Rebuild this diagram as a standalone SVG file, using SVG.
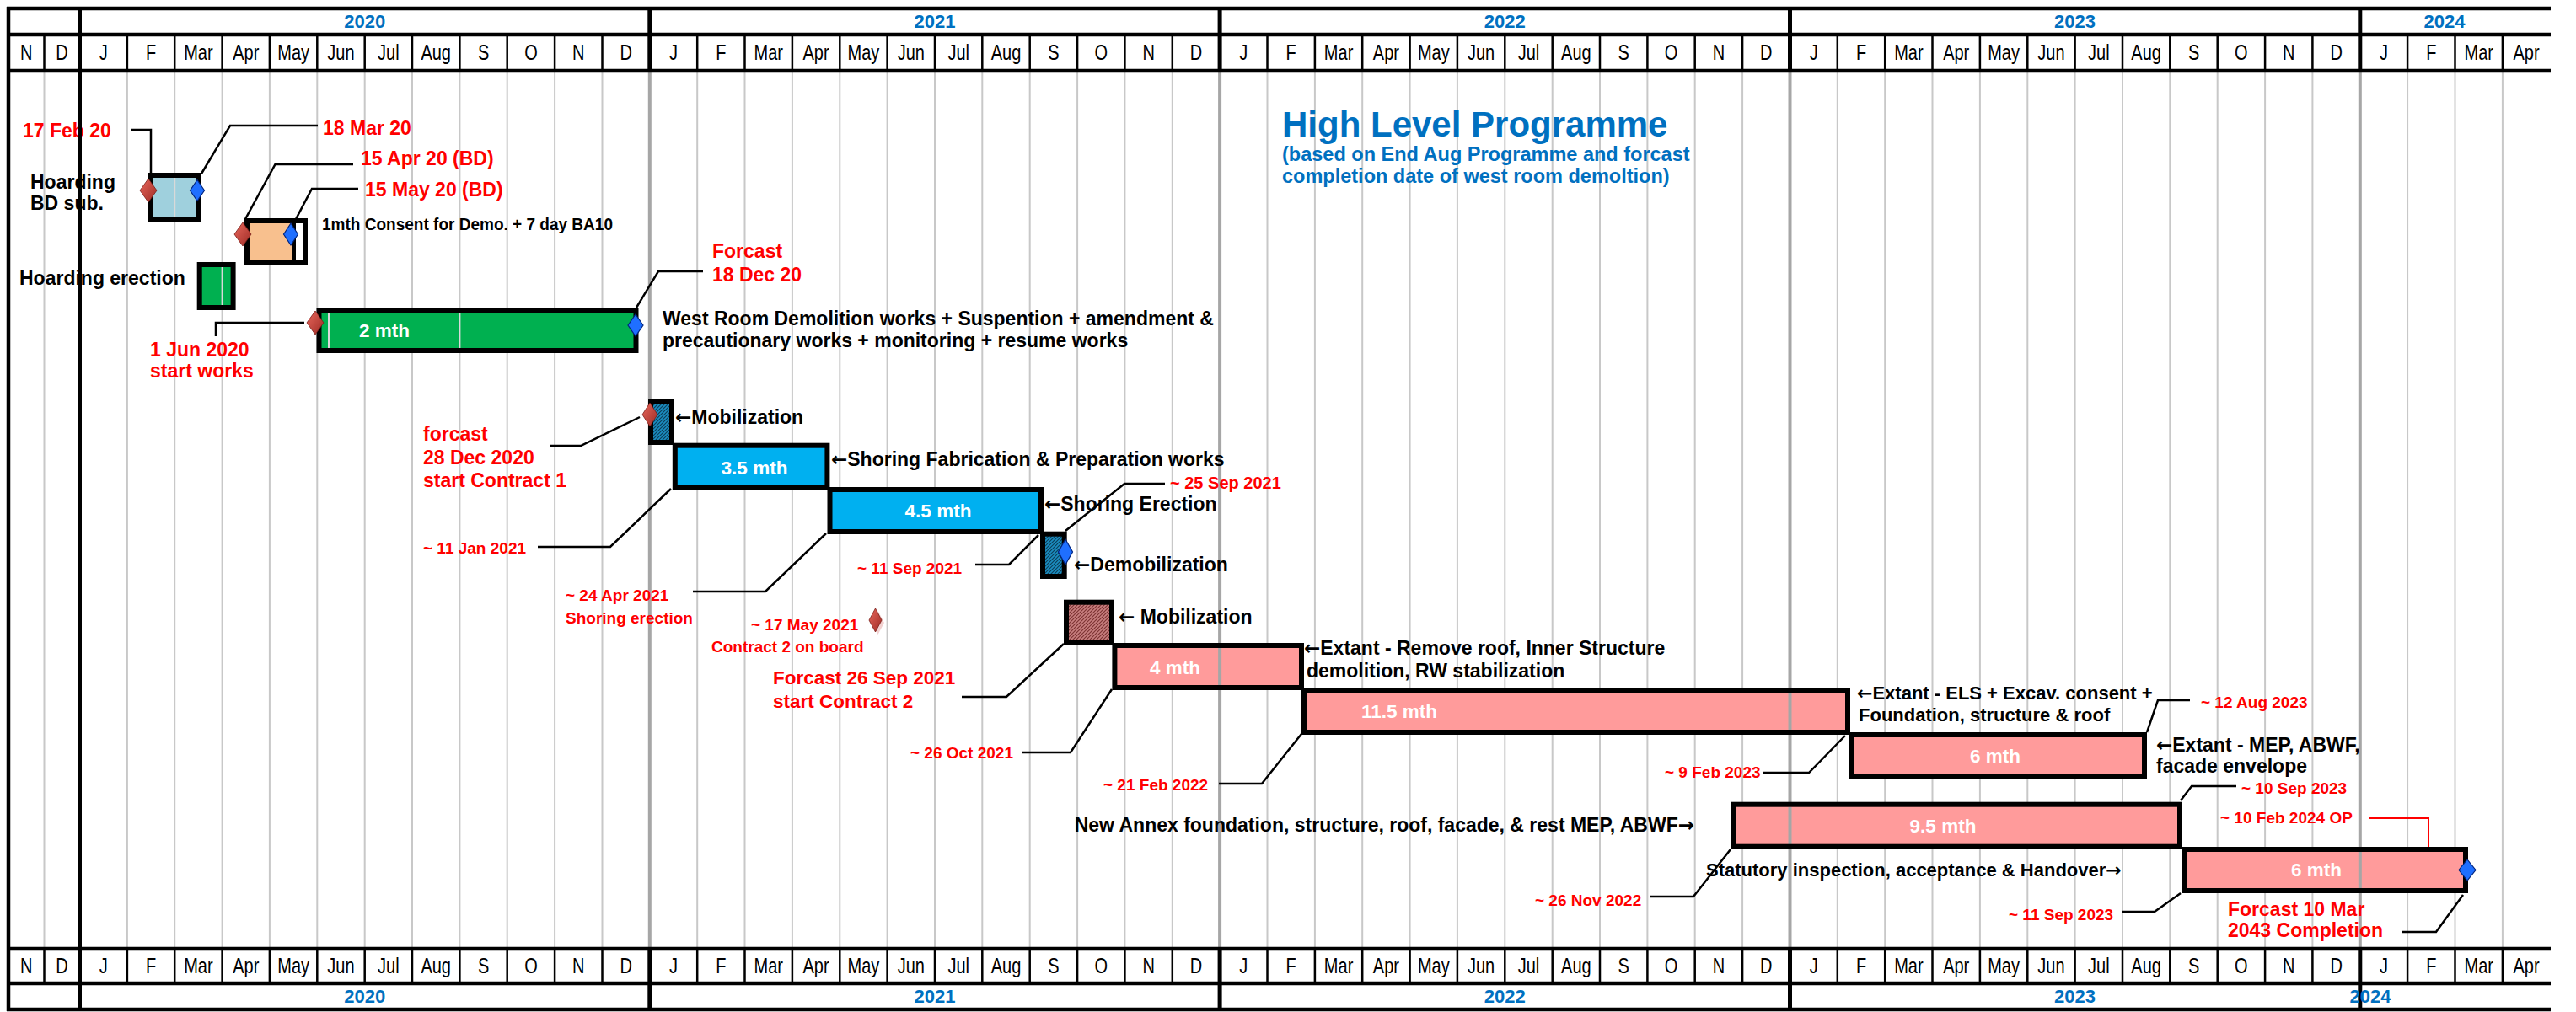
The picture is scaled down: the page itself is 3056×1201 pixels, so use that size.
<svg xmlns="http://www.w3.org/2000/svg" width="3056" height="1201" viewBox="0 0 3056 1201">
<style>
text{font-family:"Liberation Sans","DejaVu Sans",sans-serif}
.r{fill:#f00;font-weight:bold}
.k{fill:#000;font-weight:bold}
.w{fill:#fff;font-weight:bold;text-anchor:middle;font-size:22.5px}
.s23{font-size:23px}
.s22{font-size:22px}
.s19{font-size:19px}
.ar{font-family:"DejaVu Sans",sans-serif}
.mon{font-size:25px;text-anchor:middle;fill:#000}
.yr{font-size:22px;font-weight:bold;fill:#0070c0;text-anchor:middle}
.ttl{fill:#0070c0;font-weight:bold}
.grid{stroke:#c8c8c8;stroke-width:2;fill:none}
.yl{stroke:#a6a6a6;stroke-width:4;fill:none}
.hl{stroke:#000;stroke-width:4.5;fill:none}
.md{stroke:#000;stroke-width:2.5;fill:none}
.yv{stroke:#000;stroke-width:5;fill:none}
.ol{fill:none;stroke:#000;stroke-width:6}
.ld{fill:none;stroke:#000;stroke-width:2.5}
.rd{fill:url(#rg);stroke:#7a1d18;stroke-width:0.8}
.bd{fill:#1f6fff;stroke:#00247d;stroke-width:1.2}
.seam{stroke:#d9d9d9;stroke-width:2}
.yseam{stroke:#a6a6a6;stroke-width:4}
</style>
<defs>
<linearGradient id="rg" x1="0" y1="0" x2="1" y2="1">
<stop offset="0" stop-color="#e8675c"/>
<stop offset="1" stop-color="#9e2b25"/>
</linearGradient>
<pattern id="pT" width="4" height="4" patternUnits="userSpaceOnUse">
<rect width="4" height="4" fill="#1b8ec2"/>
<path d="M0,4 L4,0 M-1,1 L1,-1 M3,5 L5,3" stroke="#0b3f5a" stroke-width="1.2"/>
</pattern>
<pattern id="pB" width="4" height="4" patternUnits="userSpaceOnUse">
<rect width="4" height="4" fill="#c98080"/>
<path d="M0,4 L4,0 M-1,1 L1,-1 M3,5 L5,3" stroke="#7d3333" stroke-width="1.2"/>
</pattern>
</defs>
<rect width="3056" height="1201" fill="#fff"/>

<g id="grid">
<path class="grid" d="M52.5 86V1124 M150.9 86V1124 M207.2 86V1124 M263.6 86V1124 M319.9 86V1124 M376.3 86V1124 M432.7 86V1124 M489 86V1124 M545.4 86V1124 M601.7 86V1124 M658.1 86V1124 M714.5 86V1124 M827.2 86V1124 M883.5 86V1124 M939.9 86V1124 M996.3 86V1124 M1052.6 86V1124 M1109 86V1124 M1165.3 86V1124 M1221.7 86V1124 M1278.1 86V1124 M1334.4 86V1124 M1390.8 86V1124 M1503.5 86V1124 M1559.9 86V1124 M1616.2 86V1124 M1672.6 86V1124 M1728.9 86V1124 M1785.3 86V1124 M1841.7 86V1124 M1898 86V1124 M1954.4 86V1124 M2010.7 86V1124 M2067.1 86V1124 M2179.8 86V1124 M2236.2 86V1124 M2292.5 86V1124 M2348.9 86V1124 M2405.3 86V1124 M2461.6 86V1124 M2518 86V1124 M2574.3 86V1124 M2630.7 86V1124 M2687.1 86V1124 M2743.4 86V1124 M2856.1 86V1124 M2912.5 86V1124 M2968.9 86V1124"/>
<path class="yl" d="M770.8 86V1124 M1447.1 86V1124 M2123.5 86V1124 M2799.8 86V1124"/>
</g>

<g id="title">
<text class="ttl" x="1521" y="162" font-size="42">High Level Programme</text>
<text class="ttl" x="1521" y="191" font-size="23.5">(based on End Aug Programme and forcast</text>
<text class="ttl" x="1521" y="217" font-size="23.5">completion date of west room demoltion)</text>
</g>

<g id="node-hoarding-bd">
<rect x="179" y="208" width="57" height="53" fill="#9fd0dd"/>
<line class="seam" x1="207.2" y1="211" x2="207.2" y2="258"/>
<rect class="ol" x="179" y="208" width="57" height="53"/>
<polygon class="rd" points="176,212 186,226 176,240 166,226"/>
<polygon class="bd" points="234,213.5 242.5,226 234,238.5 225.5,226"/>
<text class="k s23" x="36" y="224">Hoarding</text>
<text class="k s23" x="36" y="249">BD sub.</text>
<text class="r s23" x="27" y="163">17 Feb 20</text>
<text class="r s23" x="383" y="160">18 Mar 20</text>
</g>

<g id="node-consent">
<rect x="293" y="262" width="56" height="50" fill="#f8c08e"/>
<rect x="349" y="262" width="13" height="50" fill="#fff"/>
<line x1="349" y1="262" x2="349" y2="312" stroke="#000" stroke-width="4"/>
<rect class="ol" x="293" y="262" width="69" height="50"/>
<polygon class="rd" points="288,264 298,278 288,292 278,278"/>
<polygon class="bd" points="345,265 353.5,278 345,291 336.5,278"/>
<text class="r s23" x="428" y="196">15 Apr 20 (BD)</text>
<text class="r s23" x="433" y="233">15 May 20 (BD)</text>
<text class="k" x="382" y="273" font-size="20" textLength="345" lengthAdjust="spacingAndGlyphs">1mth Consent for Demo. + 7 day BA10</text>
</g>

<g id="node-hoarding-erection">
<rect x="236.7" y="314" width="39.9" height="51" fill="#00b050"/>
<line class="seam" x1="263.6" y1="317" x2="263.6" y2="362"/>
<rect class="ol" x="236.7" y="314" width="39.9" height="51"/>
<text class="k s23" x="23" y="338">Hoarding erection</text>
</g>

<g id="node-west-room">
<rect x="378.5" y="368" width="376" height="48" fill="#00b050"/>
<line class="seam" x1="390" y1="371" x2="390" y2="413"/>
<line class="seam" x1="545.4" y1="371" x2="545.4" y2="413"/>
<rect class="ol" x="378.5" y="368" width="376" height="48"/>
<polygon class="rd" points="374,369 384,383 374,397 364,383"/>
<polygon class="bd" points="754,373 763,386 754,399 745,386"/>
<text class="w" x="456" y="400">2 mth</text>
<text class="r s23" x="178" y="423">1 Jun 2020</text>
<text class="r s23" x="178" y="448">start works</text>
<text class="r s23" x="845" y="306">Forcast</text>
<text class="r s23" x="845" y="334">18 Dec 20</text>
<text class="k s23" x="786" y="386">West Room Demolition works + Suspention + amendment &amp;</text>
<text class="k s23" x="786" y="412">precautionary works + monitoring + resume works</text>
</g>

<g id="node-mobilization-1">
<rect x="772" y="476" width="25" height="49" fill="url(#pT)"/>
<rect class="ol" x="772" y="476" width="25" height="49"/>
<polygon class="rd" points="771,478 780,492 771,506 762,492"/>
<text class="k s23" x="801" y="503"><tspan class="ar">←</tspan>Mobilization</text>
<text class="r s23" x="502" y="523">forcast</text>
<text class="r s23" x="502" y="551">28 Dec 2020</text>
<text class="r s23" x="502" y="578">start Contract 1</text>
</g>

<g id="node-shoring-fabrication">
<rect x="800.8" y="528.7" width="180.6" height="50" fill="#00b0f0"/>
<rect class="ol" x="800.8" y="528.7" width="180.6" height="50"/>
<text class="w" x="895" y="563">3.5 mth</text>
<text class="k s23" x="986" y="553"><tspan class="ar">←</tspan>Shoring Fabrication &amp; Preparation works</text>
<text class="r s19" x="502" y="657">~ 11 Jan 2021</text>
</g>

<g id="node-shoring-erection">
<rect x="984.5" y="581" width="250.5" height="50" fill="#00b0f0"/>
<rect class="ol" x="984.5" y="581" width="250.5" height="50"/>
<text class="w" x="1113" y="614">4.5 mth</text>
<text class="k s23" x="1239" y="606"><tspan class="ar">←</tspan>Shoring Erection</text>
<text class="r s19" x="671" y="713">~ 24 Apr 2021</text>
<text class="r s19" x="671" y="740">Shoring erection</text>
</g>

<g id="node-contract2-onboard">
<polygon points="1041.5,725 1049,739 1041.5,753 1034,739" fill="#e9b3b0" opacity="0.6"/>
<polygon class="rd" points="1038.5,722 1046,736 1038.5,750 1031,736"/>
<text class="r s19" x="891" y="748">~ 17 May 2021</text>
<text class="r s19" x="844" y="774">Contract 2 on board</text>
</g>

<g id="node-demobilization">
<rect x="1237" y="633.7" width="25.7" height="50.3" fill="url(#pT)"/>
<rect class="ol" x="1237" y="633.7" width="25.7" height="50.3"/>
<polygon class="bd" points="1264,640 1272.5,655 1264,670 1255.5,655"/>
<text class="k s23" x="1274" y="678"><tspan class="ar">←</tspan>Demobilization</text>
<text class="r s19" x="1017" y="681">~ 11 Sep 2021</text>
<text class="r" x="1388" y="580" font-size="20">~ 25 Sep 2021</text>
</g>

<g id="node-mobilization-2">
<rect x="1265" y="714.7" width="54" height="48.3" fill="url(#pB)"/>
<rect class="ol" x="1265" y="714.7" width="54" height="48.3"/>
<text class="k s23" x="1327" y="740"><tspan class="ar">←</tspan> Mobilization</text>
<text class="r" x="917" y="812" font-size="22.5">Forcast 26 Sep 2021</text>
<text class="r" x="917" y="840" font-size="22.5">start Contract 2</text>
</g>

<g id="node-extant-remove-roof">
<rect x="1322.4" y="766" width="221.6" height="50" fill="#ff9b9b"/>
<line class="yseam" x1="1447.1" y1="769" x2="1447.1" y2="813"/>
<rect class="ol" x="1322.4" y="766" width="221.6" height="50"/>
<text class="w" x="1394" y="800">4 mth</text>
<text class="k s23" x="1547" y="777"><tspan class="ar">←</tspan>Extant - Remove roof, Inner Structure</text>
<text class="k s23" x="1550" y="804">demolition, RW stabilization</text>
<text class="r s19" x="1202" y="900" text-anchor="end">~ 26 Oct 2021</text>
</g>

<g id="node-extant-els">
<rect x="1547" y="820" width="645" height="49" fill="#ff9b9b"/>
<line class="yseam" x1="2123.5" y1="823" x2="2123.5" y2="866"/>
<rect class="ol" x="1547" y="820" width="645" height="49"/>
<text class="w" x="1660" y="852">11.5 mth</text>
<text class="k s22" x="2203" y="830"><tspan class="ar">←</tspan>Extant - ELS + Excav. consent +</text>
<text class="k s22" x="2205" y="856">Foundation, structure &amp; roof</text>
<text class="r s19" x="1309" y="938">~ 21 Feb 2022</text>
</g>

<g id="node-extant-mep">
<rect x="2196" y="872" width="348" height="50" fill="#ff9b9b"/>
<rect class="ol" x="2196" y="872" width="348" height="50"/>
<text class="w" x="2367" y="905">6 mth</text>
<text class="k s23" x="2558" y="892"><tspan class="ar">←</tspan>Extant - MEP, ABWF,</text>
<text class="k s23" x="2558" y="917">facade envelope</text>
<text class="r s19" x="1975" y="923">~ 9 Feb 2023</text>
<text class="r s19" x="2611" y="840">~ 12 Aug 2023</text>
</g>

<g id="node-new-annex">
<rect x="2056" y="954.7" width="530" height="50" fill="#ff9b9b"/>
<line class="yseam" x1="2123.5" y1="958" x2="2123.5" y2="1002"/>
<rect class="ol" x="2056" y="954.7" width="530" height="50"/>
<text class="w" x="2305" y="988">9.5 mth</text>
<text class="k s23" x="2010" y="987" text-anchor="end">New Annex foundation, structure, roof, facade, &amp; rest MEP, ABWF<tspan class="ar">→</tspan></text>
<text class="r s19" x="1821" y="1075">~ 26 Nov 2022</text>
<text class="r s19" x="2659" y="942">~ 10 Sep 2023</text>
</g>

<g id="node-handover">
<rect x="2592" y="1008" width="333" height="49" fill="#ff9b9b"/>
<line class="yseam" x1="2799.8" y1="1011" x2="2799.8" y2="1054"/>
<rect class="ol" x="2592" y="1008" width="333" height="49"/>
<polygon class="bd" points="2927,1020 2937,1032.5 2927,1045 2917,1032.5"/>
<text class="w" x="2748" y="1040">6 mth</text>
<text class="k s22" x="2024" y="1040">Statutory inspection, acceptance &amp; Handover<tspan class="ar">→</tspan></text>
<text class="r s19" x="2383" y="1092">~ 11 Sep 2023</text>
<text class="r s19" x="2634" y="977">~ 10 Feb 2024 OP</text>
<text class="r s23" x="2643" y="1087">Forcast 10 Mar</text>
<text class="r s23" x="2643" y="1112">2043 Completion</text>
</g>

<g id="connectors">
<polyline class="ld" points="156,154 179,154 179,206"/>
<polyline class="ld" points="377,149 273,149 239,206"/>
<polyline class="ld" points="419,195 326.5,195 291,260"/>
<polyline class="ld" points="425,224 370,224 351,260"/>
<polyline class="ld" points="361,383 256,383 256,399"/>
<polyline class="ld" points="834,322 781,322 755,365"/>
<polyline class="ld" points="653,529 689,529 759,495"/>
<polyline class="ld" points="638,649 724,649 796,580"/>
<polyline class="ld" points="822,702 908,702 980,633"/>
<polyline class="ld" points="1157,670 1197,670 1232,635"/>
<polyline class="ld" points="1382,574 1334,574 1264,630"/>
<polyline class="ld" points="1141,827 1194,827 1262,764"/>
<polyline class="ld" points="1213,893 1270,893 1319,818"/>
<polyline class="ld" points="1446,930 1497,930 1544,871"/>
<polyline class="ld" points="2091,917 2146,917 2189,873"/>
<polyline class="ld" points="2598,831 2560,831 2547,869"/>
<polyline class="ld" points="2653,933 2600,933 2587,950"/>
<polyline fill="none" stroke="#f00" stroke-width="2" points="2810,971 2881,971 2881,1005"/>
<polyline class="ld" points="1958,1064 2009,1064 2053,1008"/>
<polyline class="ld" points="2517,1082 2556,1082 2587,1060"/>
<polyline class="ld" points="2849,1106 2890,1106 2922,1062"/>
</g>

<g id="header">
<path class="hl" d="M8 10H3026 M8 41H3026 M8 84H3026 M8 1126H3026 M8 1167H3026 M8 1198H3026"/>
<path class="hl" d="M10 8V1200"/>
<path class="yv" d="M94.5 8V1200 M770.8 10V84 M1447.1 10V84 M2123.5 10V84 M2799.8 10V84 M770.8 1126V1198 M1447.1 1126V1198 M2123.5 1126V1198 M2799.8 1126V1198"/>
<path class="md" d="M52.5 41V84 M150.9 41V84 M207.2 41V84 M263.6 41V84 M319.9 41V84 M376.3 41V84 M432.7 41V84 M489 41V84 M545.4 41V84 M601.7 41V84 M658.1 41V84 M714.5 41V84 M827.2 41V84 M883.5 41V84 M939.9 41V84 M996.3 41V84 M1052.6 41V84 M1109 41V84 M1165.3 41V84 M1221.7 41V84 M1278.1 41V84 M1334.4 41V84 M1390.8 41V84 M1503.5 41V84 M1559.9 41V84 M1616.2 41V84 M1672.6 41V84 M1728.9 41V84 M1785.3 41V84 M1841.7 41V84 M1898 41V84 M1954.4 41V84 M2010.7 41V84 M2067.1 41V84 M2179.8 41V84 M2236.2 41V84 M2292.5 41V84 M2348.9 41V84 M2405.3 41V84 M2461.6 41V84 M2518 41V84 M2574.3 41V84 M2630.7 41V84 M2687.1 41V84 M2743.4 41V84 M2856.1 41V84 M2912.5 41V84 M2968.9 41V84"/>
<path class="md" d="M52.5 1126V1167 M150.9 1126V1167 M207.2 1126V1167 M263.6 1126V1167 M319.9 1126V1167 M376.3 1126V1167 M432.7 1126V1167 M489 1126V1167 M545.4 1126V1167 M601.7 1126V1167 M658.1 1126V1167 M714.5 1126V1167 M827.2 1126V1167 M883.5 1126V1167 M939.9 1126V1167 M996.3 1126V1167 M1052.6 1126V1167 M1109 1126V1167 M1165.3 1126V1167 M1221.7 1126V1167 M1278.1 1126V1167 M1334.4 1126V1167 M1390.8 1126V1167 M1503.5 1126V1167 M1559.9 1126V1167 M1616.2 1126V1167 M1672.6 1126V1167 M1728.9 1126V1167 M1785.3 1126V1167 M1841.7 1126V1167 M1898 1126V1167 M1954.4 1126V1167 M2010.7 1126V1167 M2067.1 1126V1167 M2179.8 1126V1167 M2236.2 1126V1167 M2292.5 1126V1167 M2348.9 1126V1167 M2405.3 1126V1167 M2461.6 1126V1167 M2518 1126V1167 M2574.3 1126V1167 M2630.7 1126V1167 M2687.1 1126V1167 M2743.4 1126V1167 M2856.1 1126V1167 M2912.5 1126V1167 M2968.9 1126V1167"/>
<text class="yr" x="432.7" y="33">2020</text>
<text class="yr" x="1109" y="33">2021</text>
<text class="yr" x="1785.3" y="33">2022</text>
<text class="yr" x="2461.6" y="33">2023</text>
<text class="yr" x="2900" y="33">2024</text>
<text class="yr" x="432.7" y="1190">2020</text>
<text class="yr" x="1109" y="1190">2021</text>
<text class="yr" x="1785.3" y="1190">2022</text>
<text class="yr" x="2461.6" y="1190">2023</text>
<text class="yr" x="2812" y="1190" text-anchor="start">2024</text>
<g class="mon" transform="scale(0.8 1)">
<text x="39.1" y="71.5">N</text><text x="91.9" y="71.5">D</text>
<text x="153.4" y="71.5">J</text><text x="223.8" y="71.5">F</text><text x="294.3" y="71.5">Mar</text><text x="364.7" y="71.5">Apr</text><text x="435.2" y="71.5">May</text><text x="505.6" y="71.5">Jun</text><text x="576.1" y="71.5">Jul</text><text x="646.5" y="71.5">Aug</text><text x="717" y="71.5">S</text><text x="787.4" y="71.5">O</text><text x="857.9" y="71.5">N</text><text x="928.3" y="71.5">D</text>
<text x="998.8" y="71.5">J</text><text x="1069.2" y="71.5">F</text><text x="1139.7" y="71.5">Mar</text><text x="1210.1" y="71.5">Apr</text><text x="1280.6" y="71.5">May</text><text x="1351" y="71.5">Jun</text><text x="1421.5" y="71.5">Jul</text><text x="1491.9" y="71.5">Aug</text><text x="1562.4" y="71.5">S</text><text x="1632.8" y="71.5">O</text><text x="1703.3" y="71.5">N</text><text x="1773.7" y="71.5">D</text>
<text x="1844.2" y="71.5">J</text><text x="1914.6" y="71.5">F</text><text x="1985.1" y="71.5">Mar</text><text x="2055.5" y="71.5">Apr</text><text x="2126" y="71.5">May</text><text x="2196.4" y="71.5">Jun</text><text x="2266.9" y="71.5">Jul</text><text x="2337.3" y="71.5">Aug</text><text x="2407.8" y="71.5">S</text><text x="2478.2" y="71.5">O</text><text x="2548.7" y="71.5">N</text><text x="2619.1" y="71.5">D</text>
<text x="2689.6" y="71.5">J</text><text x="2760" y="71.5">F</text><text x="2830.5" y="71.5">Mar</text><text x="2900.9" y="71.5">Apr</text><text x="2971.4" y="71.5">May</text><text x="3041.8" y="71.5">Jun</text><text x="3112.3" y="71.5">Jul</text><text x="3182.7" y="71.5">Aug</text><text x="3253.2" y="71.5">S</text><text x="3323.6" y="71.5">O</text><text x="3394.1" y="71.5">N</text><text x="3464.5" y="71.5">D</text>
<text x="3535" y="71.5">J</text><text x="3605.4" y="71.5">F</text><text x="3675.9" y="71.5">Mar</text><text x="3746.3" y="71.5">Apr</text>
<text x="39.1" y="1155.5">N</text><text x="91.9" y="1155.5">D</text>
<text x="153.4" y="1155.5">J</text><text x="223.8" y="1155.5">F</text><text x="294.3" y="1155.5">Mar</text><text x="364.7" y="1155.5">Apr</text><text x="435.2" y="1155.5">May</text><text x="505.6" y="1155.5">Jun</text><text x="576.1" y="1155.5">Jul</text><text x="646.5" y="1155.5">Aug</text><text x="717" y="1155.5">S</text><text x="787.4" y="1155.5">O</text><text x="857.9" y="1155.5">N</text><text x="928.3" y="1155.5">D</text>
<text x="998.8" y="1155.5">J</text><text x="1069.2" y="1155.5">F</text><text x="1139.7" y="1155.5">Mar</text><text x="1210.1" y="1155.5">Apr</text><text x="1280.6" y="1155.5">May</text><text x="1351" y="1155.5">Jun</text><text x="1421.5" y="1155.5">Jul</text><text x="1491.9" y="1155.5">Aug</text><text x="1562.4" y="1155.5">S</text><text x="1632.8" y="1155.5">O</text><text x="1703.3" y="1155.5">N</text><text x="1773.7" y="1155.5">D</text>
<text x="1844.2" y="1155.5">J</text><text x="1914.6" y="1155.5">F</text><text x="1985.1" y="1155.5">Mar</text><text x="2055.5" y="1155.5">Apr</text><text x="2126" y="1155.5">May</text><text x="2196.4" y="1155.5">Jun</text><text x="2266.9" y="1155.5">Jul</text><text x="2337.3" y="1155.5">Aug</text><text x="2407.8" y="1155.5">S</text><text x="2478.2" y="1155.5">O</text><text x="2548.7" y="1155.5">N</text><text x="2619.1" y="1155.5">D</text>
<text x="2689.6" y="1155.5">J</text><text x="2760" y="1155.5">F</text><text x="2830.5" y="1155.5">Mar</text><text x="2900.9" y="1155.5">Apr</text><text x="2971.4" y="1155.5">May</text><text x="3041.8" y="1155.5">Jun</text><text x="3112.3" y="1155.5">Jul</text><text x="3182.7" y="1155.5">Aug</text><text x="3253.2" y="1155.5">S</text><text x="3323.6" y="1155.5">O</text><text x="3394.1" y="1155.5">N</text><text x="3464.5" y="1155.5">D</text>
<text x="3535" y="1155.5">J</text><text x="3605.4" y="1155.5">F</text><text x="3675.9" y="1155.5">Mar</text><text x="3746.3" y="1155.5">Apr</text>
</g>
</g>
</svg>
